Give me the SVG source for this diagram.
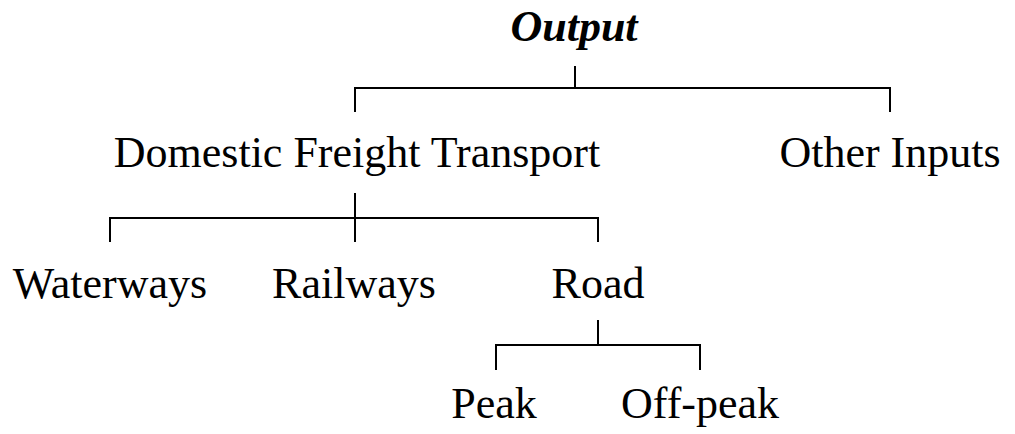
<svg xmlns="http://www.w3.org/2000/svg" width="1015" height="434" viewBox="0 0 1015 434">
<style>
.t{font-family:"Liberation Serif","Times New Roman",serif;font-size:44px;fill:#000;text-anchor:middle}
.b{font-weight:bold;font-style:italic}
.c{stroke:#000;stroke-width:2;fill:none}
</style>
<rect width="1015" height="434" fill="#fff"/>
<g id="connectors" class="c">
<path d="M575,66V88M355,112V88H890V112"/>
<path d="M355,193V242M110,242V218H598V242"/>
<path d="M598,320V345M496,370V345H700V370"/>
</g>
<g id="output"><text class="t b" x="574" y="41">Output</text></g>
<g id="dft"><text class="t" x="357" y="167">Domestic Freight Transport</text></g>
<g id="other"><text class="t" x="890" y="167">Other Inputs</text></g>
<g id="waterways"><text class="t" x="110" y="298">Waterways</text></g>
<g id="railways"><text class="t" x="354" y="298">Railways</text></g>
<g id="road"><text class="t" x="598" y="298">Road</text></g>
<g id="peak"><text class="t" x="494" y="418">Peak</text></g>
<g id="offpeak"><text class="t" x="700" y="418">Off-peak</text></g>
</svg>
